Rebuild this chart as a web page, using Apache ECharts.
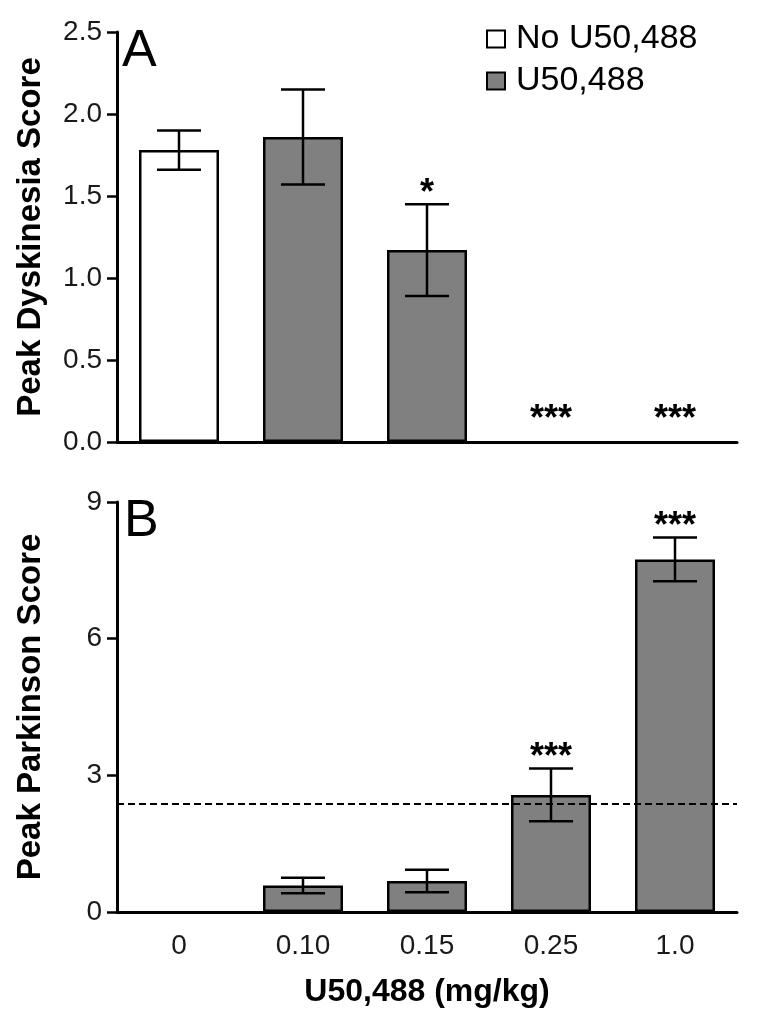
<!DOCTYPE html>
<html>
<head>
<meta charset="utf-8">
<script src="https://cdn.jsdelivr.net/npm/echarts@6/dist/echarts.min.js"></script>
<style>
  html, body { margin: 0; padding: 0; background: #fff; }
  #chart { width: 758px; height: 1030px; }
</style>
</head>
<body>
<div id="chart"></div>
<script>
// ---- data ----
const doses = ['0', '0.10', '0.15', '0.25', '1.0'];
const groups = ['No U50,488', 'U50,488', 'U50,488', 'U50,488', 'U50,488'];
const dyskMean = [1.78, 1.86, 1.17, 0, 0];
const dyskSem = [0.12, 0.29, 0.28, 0, 0];
const dyskSig = ['', '', '*', '***', '***'];
const parkMean = [0, 0.58, 0.68, 2.57, 7.74];
const parkSem = [0, 0.17, 0.245, 0.58, 0.48];
const parkSig = ['', '', '', '***', '***'];
const parkThreshold = 2.37;
const legendNames = ['No U50,488', 'U50,488'];
const dyskAxis = { min: 0, max: 2.5, interval: 0.5 };
const parkAxis = { min: 0, max: 9, interval: 3 };

// ---- styling ----
const FONT = '"Liberation Sans", Arial, sans-serif';
const colors = { 'No U50,488': '#ffffff', 'U50,488': '#808080' };

function barSeries(idx, means, name) {
  return {
    type: 'bar', name: name, xAxisIndex: idx, yAxisIndex: idx,
    barWidth: 80, barGap: '-100%',
    data: means.map((v, i) => {
      if (groups[i] !== name) return null;
      return v === 0 ? { value: v, itemStyle: { borderWidth: 0 } } : v;
    }),
    itemStyle: { color: colors[name], borderColor: '#000', borderWidth: 2.5 },
    z: 2
  };
}

function errSeries(idx, means, sems, sigs) {
  return {
    type: 'custom', xAxisIndex: idx, yAxisIndex: idx, z: 10, silent: true,
    data: means.map((m, i) => [i, m - sems[i], m + sems[i]]),
    encode: { x: 0, y: [1, 2] },
    renderItem: function (params, api) {
      const i = api.value(0);
      const lo = api.coord([i, api.value(1)]);
      const hi = api.coord([i, api.value(2)]);
      const st = { stroke: '#000', lineWidth: 2.5 };
      const ch = [];
      if (sems[i] > 0) {
        ch.push({ type: 'line', shape: { x1: hi[0], y1: hi[1], x2: lo[0], y2: lo[1] }, style: st });
        ch.push({ type: 'line', shape: { x1: hi[0] - 22, y1: hi[1], x2: hi[0] + 22, y2: hi[1] }, style: st });
        ch.push({ type: 'line', shape: { x1: lo[0] - 22, y1: lo[1], x2: lo[0] + 22, y2: lo[1] }, style: st });
      }
      if (sigs[i]) {
        ch.push({
          type: 'text', x: hi[0], y: hi[1] - (sems[i] > 0 ? 10 : 22),
          style: { text: sigs[i], font: 'bold 36px ' + FONT, fill: '#000', align: 'center', verticalAlign: 'middle' }
        });
      }
      return { type: 'group', children: ch };
    }
  };
}

function yAxis(idx, cfg, name) {
  return {
    type: 'value', gridIndex: idx, min: cfg.min, max: cfg.max, interval: cfg.interval,
    name: name, nameLocation: 'middle', nameGap: 70,
    nameTextStyle: { fontSize: 33, fontWeight: 'bold', fontFamily: FONT, color: '#000' },
    axisLine: { show: true, lineStyle: { color: '#000', width: 3 } },
    axisTick: { show: true, length: 10, lineStyle: { color: '#000', width: 2.5 } },
    axisLabel: {
      fontSize: 28, fontFamily: FONT, color: '#1a1a1a', margin: 15,
      formatter: v => cfg.interval < 1 ? v.toFixed(1) : String(v)
    },
    splitLine: { show: false }
  };
}

function xAxis(idx, showLabels) {
  return {
    type: 'category', gridIndex: idx, data: doses,
    axisLine: { show: true, lineStyle: { color: '#000', width: 3 } },
    axisTick: { show: false },
    axisLabel: { show: showLabels, fontSize: 28, fontFamily: FONT, color: '#1a1a1a', margin: 20 },
    name: showLabels ? 'U50,488 (mg/kg)' : '',
    nameLocation: 'middle', nameGap: 64,
    nameTextStyle: { fontSize: 32, fontWeight: 'bold', fontFamily: FONT, color: '#000' }
  };
}

const parkBarsU = barSeries(1, parkMean, 'U50,488');
parkBarsU.markLine = {
  silent: true, symbol: 'none', animation: false,
  label: { show: false },
  lineStyle: { color: '#000', width: 2, type: [7, 4] },
  data: [{ yAxis: parkThreshold }]
};

const option = {
  animation: false,
  backgroundColor: '#fff',
  grid: [
    { left: 117, top: 32, width: 620, height: 410 },
    { left: 117, top: 502, width: 620, height: 410 }
  ],
  legend: {
    data: legendNames, orient: 'vertical', left: 481, top: 17,
    itemWidth: 18, itemHeight: 17, itemGap: 8, icon: 'rect', selectedMode: false,
    itemStyle: { borderColor: '#000', borderWidth: 2 },
    textStyle: { fontSize: 34, fontFamily: FONT, color: '#000', padding: [0, 0, 0, 6] }
  },
  xAxis: [xAxis(0, false), xAxis(1, true)],
  yAxis: [yAxis(0, dyskAxis, 'Peak Dyskinesia Score'), yAxis(1, parkAxis, 'Peak Parkinson Score')],
  graphic: [
    { type: 'text', left: 122, top: 26, style: { text: 'A', font: '52px ' + FONT, fill: '#000' } },
    { type: 'text', left: 124, top: 496, style: { text: 'B', font: '52px ' + FONT, fill: '#000' } }
  ],
  series: [
    barSeries(0, dyskMean, 'No U50,488'),
    barSeries(0, dyskMean, 'U50,488'),
    errSeries(0, dyskMean, dyskSem, dyskSig),
    barSeries(1, parkMean, 'No U50,488'),
    parkBarsU,
    errSeries(1, parkMean, parkSem, parkSig)
  ]
};

const chart = echarts.init(document.getElementById('chart'), null, { renderer: 'canvas' });
chart.setOption(option);
</script>
</body>
</html>
